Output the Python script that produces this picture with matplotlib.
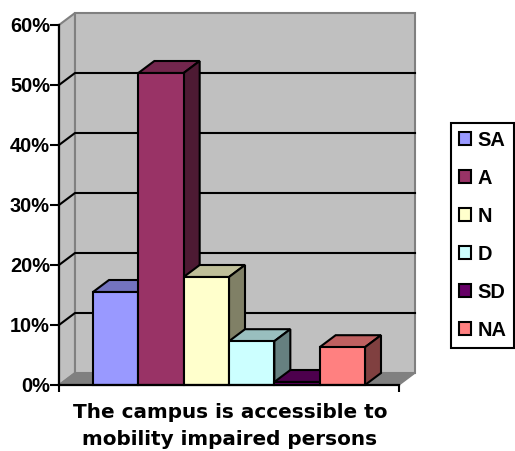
import matplotlib
matplotlib.use("Agg")
import matplotlib.pyplot as plt
from matplotlib.patches import Polygon, Patch
from matplotlib.ticker import FuncFormatter

plt.rcParams['font.family'] = ['Liberation Sans', 'DejaVu Sans']

categories = ['SA', 'A', 'N', 'D', 'SD', 'NA']
values = [15.5, 52, 18, 7.3, 0.5, 6.3]
front_colors = ['#9999FF', '#993366', '#FFFFCC', '#CCFFFF', '#660066', '#FF8080']
top_colors = ['#7373BF', '#73264D', '#BFBF99', '#99BFBF', '#4D004D', '#BF6060']
side_colors = ['#4D4D80', '#4D1A33', '#808066', '#668080', '#330033', '#804040']
y_ticks = [0, 10, 20, 30, 40, 50, 60]
x_label = 'The campus is accessible to\nmobility impaired persons'

W, H = 515, 451
fig = plt.figure(figsize=(W / 100, H / 100), dpi=100, facecolor='white')
ax = fig.add_axes([59 / W, (H - 385) / H, 340 / W, 360 / H])
ax.set_xlim(-0.75, 6.75)
ax.set_ylim(0, 60)
ax.patch.set_visible(False)

dx, dy = 0.353, 2.0
x0, x1 = ax.get_xlim()
edge = dict(clip_on=False, joinstyle='miter')

# walls and floor
ax.add_patch(Polygon([(x0, 0), (x0 + dx, dy), (x0 + dx, 60 + dy), (x0, 60)],
                     fc='#C0C0C0', ec='#808080', lw=1.5, zorder=1, **edge))
ax.add_patch(Polygon([(x0 + dx, dy), (x1 + dx, dy), (x1 + dx, 60 + dy), (x0 + dx, 60 + dy)],
                     fc='#C0C0C0', ec='#808080', lw=1.5, zorder=1, **edge))
ax.add_patch(Polygon([(x0, 0), (x1, 0), (x1 + dx, dy), (x0 + dx, dy)],
                     fc='#808080', ec='#808080', lw=1, zorder=1, **edge))

# gridlines
for v in y_ticks[1:-1]:
    ax.plot([x0, x0 + dx, x1 + dx], [v, v + dy, v + dy], color='black', lw=1.5,
            zorder=2, clip_on=False, solid_joinstyle='miter')

# bars
for i, (v, f, t, s) in enumerate(zip(values, front_colors, top_colors, side_colors)):
    l, r = i, i + 1
    z = 3 + i
    ax.add_patch(Polygon([(l, v), (r, v), (r + dx, v + dy), (l + dx, v + dy)],
                         fc=t, ec='black', lw=1.5, zorder=z, **edge))
    ax.add_patch(Polygon([(r, 0), (r + dx, dy), (r + dx, v + dy), (r, v)],
                         fc=s, ec='black', lw=1.5, zorder=z, **edge))
    ax.add_patch(Polygon([(l, 0), (r, 0), (r, v), (l, v)],
                         fc=f, ec='black', lw=1.5, zorder=z, **edge))

# axes
for name in ('top', 'right'):
    ax.spines[name].set_visible(False)
for name in ('left', 'bottom'):
    ax.spines[name].set_linewidth(1.6)
    ax.spines[name].set_zorder(20)
ax.set_yticks(y_ticks)
ax.yaxis.set_major_formatter(FuncFormatter(lambda v, _: f'{v:.0f}%'))
ax.set_xticks([x0, x1])
ax.set_xticklabels(['', ''])
ax.tick_params(axis='y', length=6.5, width=1.5, pad=0, labelsize=14.4)
ax.tick_params(axis='x', length=5, width=1.5)
for lab in ax.get_yticklabels():
    lab.set_fontweight('bold')
fig.text(230 / W, 1 - 426 / H, x_label, ha='center', va='center', fontsize=14.4,
         family='DejaVu Sans', fontweight='bold', linespacing=1.5)

handles = [Patch(fc=c, ec='black', lw=1.5) for c in front_colors]
leg = fig.legend(handles, categories, loc='upper left',
                 bbox_to_anchor=(451 / W, 1 - 123 / H),
                 bbox_transform=fig.transFigure,
                 prop={'weight': 'bold', 'size': 14.4},
                 fancybox=False, edgecolor='black', framealpha=1,
                 handlelength=0.62, handleheight=0.62, handletextpad=0.3,
                 labelspacing=0.95, borderpad=0.4, borderaxespad=0)
leg.get_frame().set_linewidth(1.5)

fig.savefig('out.png', dpi=100)
